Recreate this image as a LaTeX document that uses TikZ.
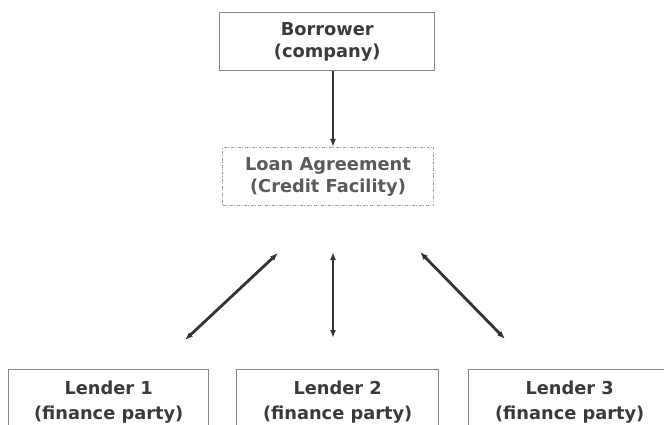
\documentclass[tikz,border=0pt]{standalone}
\usepackage{fontspec}
\setmainfont{DejaVu Sans}
\usetikzlibrary{arrows.meta}
\definecolor{txt}{HTML}{3A3A3A}
\definecolor{txtlight}{HTML}{5A5A5A}
\definecolor{edge}{HTML}{858585}
\definecolor{arr}{HTML}{333333}
\begin{document}
\begin{tikzpicture}[x=1pt,y=-1pt,
  box/.style={draw=edge, line width=1.4pt, fill=white, anchor=north west,
    align=center, inner sep=0pt, text=txt,
    font=\fontsize{17.8}{22}\selectfont\bfseries},
  lenderbox/.style={box, font=\fontsize{17.8}{25}\selectfont\bfseries},
  dashbox/.style={box, draw=edge!80, line width=1pt, dash pattern=on 3pt off 1.5pt on 1pt off 1.5pt, text=txtlight},
  conn/.style={draw=arr, line width=2.8pt, -{Latex[length=8pt,width=6pt]}},
  twoway/.style={draw=arr, line width=2.8pt, {Latex[length=8pt,width=6pt]}-{Latex[length=8pt,width=6pt]}}
]
\useasboundingbox (0,0) rectangle (664,425);
\node[box, minimum width=215pt, minimum height=58pt] (borrower) at (219,12) {Borrower\\(company)};
\node[dashbox, minimum width=211pt, minimum height=58pt] (loan) at (222,147) {Loan Agreement\\(Credit Facility)};
\node[lenderbox, minimum width=200pt, minimum height=65pt] (l1) at (8,369) {Lender 1\\(finance party)};
\node[lenderbox, minimum width=202pt, minimum height=65pt] (l2) at (236,369) {Lender 2\\(finance party)};
\node[lenderbox, minimum width=202pt, minimum height=65pt] (l3) at (468,369) {Lender 3\\(finance party)};
\draw[conn] (borrower.south -| 333,0) -- (loan.north -| 333,0);
\coordinate (a1) at (278,253);
\coordinate (b1) at (185,340);
\coordinate (a2) at (333,252);
\coordinate (b2) at (333,338);
\coordinate (a3) at (420,252);
\coordinate (b3) at (505,339);
\draw[twoway] (a1) -- (b1);
\draw[twoway] (a2) -- (b2);
\draw[twoway] (a3) -- (b3);
\end{tikzpicture}
\end{document}
